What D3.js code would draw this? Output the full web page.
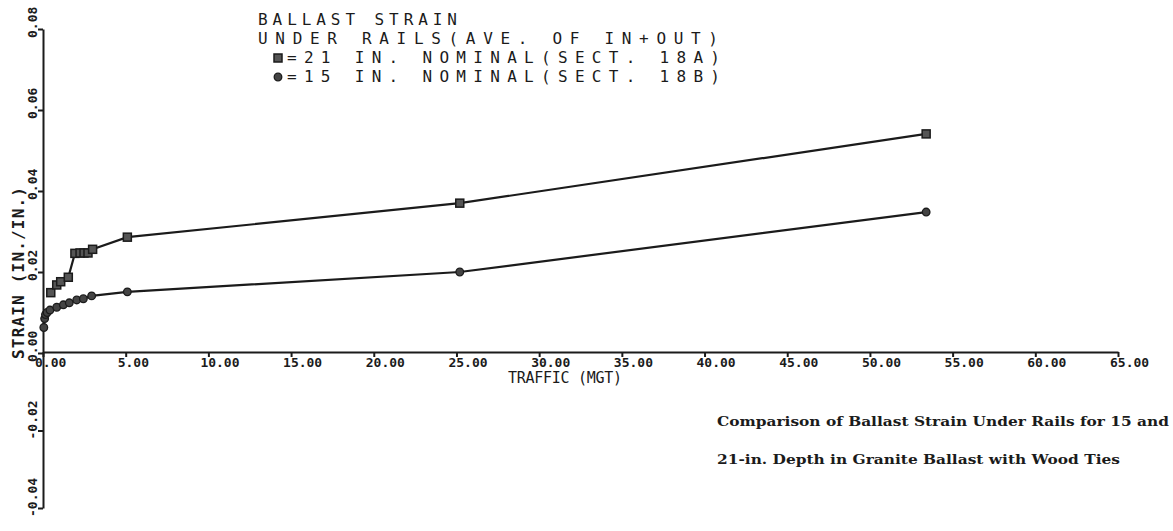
<!DOCTYPE html>
<html>
<head>
<meta charset="utf-8">
<script src="https://cdn.jsdelivr.net/npm/d3@7"></script>
<style>
  body { margin: 0; background: #fff; }
  svg { display: block; }
</style>
</head>
<body>
<div id="chart"></div>
<script>
// traffic (MGT) and strain (in./in.)
var traffic21 = [0.47, 0.83, 1.07, 1.53, 1.93, 2.24, 2.48, 2.72, 3.0, 5.1, 25.2, 53.4];
var strain21  = [0.0149, 0.0168, 0.0176, 0.0187, 0.0246, 0.0247, 0.0247, 0.0247, 0.0256, 0.0286, 0.0370, 0.0541];

var traffic15 = [0.05, 0.1, 0.15, 0.25, 0.42, 0.83, 1.23, 1.59, 2.04, 2.44, 2.94, 5.1, 25.2, 53.4];
var strain15  = [0.0063, 0.0085, 0.0095, 0.0100, 0.0106, 0.0113, 0.0119, 0.0124, 0.0131, 0.0134, 0.0141, 0.0151, 0.0200, 0.0348];

var xTicks = [0, 5, 10, 15, 20, 25, 30, 35, 40, 45, 50, 55, 60, 65];
var yTicks = [-0.04, -0.02, 0, 0.02, 0.04, 0.06, 0.08];

var legendLines = ["BALLAST STRAIN", "UNDER RAILS(AVE. OF IN+OUT)"];
var legendSeries = ["=21 IN. NOMINAL(SECT. 18A)", "=15 IN. NOMINAL(SECT. 18B)"];
var caption = ["Comparison of Ballast Strain Under Rails for 15 and",
               "21-in. Depth in Granite Ballast with Wood Ties"];

var width = 1173, height = 531;
var ink = "#1b1b1b";

var svg = d3.select("#chart").append("svg")
    .attr("width", width)
    .attr("height", height);

var x = d3.scaleLinear().domain([0, 65]).range([43, 1118]);
// scanned plot: slightly different spacing below zero
var y = d3.scaleLinear().domain([-0.04, 0, 0.08]).range([508, 353, 29]);

// axes
var xAxis = d3.axisBottom(x).tickValues(xTicks).tickSize(5).tickSizeOuter(0).tickFormat("");
var gx = svg.append("g").attr("transform", "translate(0," + 352 + ")").call(xAxis);

var yAxis = d3.axisLeft(y).tickValues(yTicks).tickSize(5).tickSizeOuter(0).tickFormat("");
var gy = svg.append("g").attr("transform", "translate(" + 43 + ",0)").call(yAxis);

[gx, gy].forEach(function(g) {
    g.select(".domain").attr("stroke", ink).attr("stroke-width", 2);
    g.selectAll(".tick line").attr("stroke", ink).attr("stroke-width", 2);
});

var tickFont = "'DejaVu Sans Mono', monospace";

svg.append("g").selectAll("text")
    .data(xTicks)
    .enter().append("text")
    .attr("x", function(d) { return x(d) - 8; })
    .attr("y", 367)
    .attr("font-family", tickFont)
    .attr("font-weight", "bold")
    .attr("font-size", 13)
    .attr("fill", ink)
    .text(function(d) { return d.toFixed(2); });

svg.append("g").selectAll("text")
    .data(yTicks)
    .enter().append("text")
    .attr("transform", function(d) { return "translate(37," + (y(d) + 9) + ")rotate(-90)"; })
    .attr("font-family", tickFont)
    .attr("font-weight", "bold")
    .attr("font-size", 13)
    .attr("fill", ink)
    .text(function(d) { return d.toFixed(2); });

// axis titles
svg.append("text")
    .attr("transform", "translate(24,273)rotate(-90)")
    .attr("text-anchor", "middle")
    .attr("font-family", tickFont)
    .attr("font-weight", "bold")
    .attr("font-size", 16)
    .attr("textLength", 172)
    .attr("fill", ink)
    .text("STRAIN (IN./IN.)");

svg.append("text")
    .attr("x", 508)
    .attr("y", 383)
    .attr("font-family", tickFont)
    .attr("font-size", 15)
    .attr("textLength", 114)
    .attr("fill", ink)
    .text("TRAFFIC (MGT)");

// series
function toPoints(xs, ys) {
    return xs.map(function(v, i) { return [v, ys[i]]; });
}
var s21 = toPoints(traffic21, strain21);
var s15 = toPoints(traffic15, strain15);

var line = d3.line()
    .x(function(d) { return x(d[0]); })
    .y(function(d) { return y(d[1]); });

[s21, s15].forEach(function(s) {
    svg.append("path")
        .attr("d", line(s))
        .attr("fill", "none")
        .attr("stroke", ink)
        .attr("stroke-width", 2.2);
});

function square(g, cx, cy) {
    g.append("rect")
        .attr("x", cx - 4).attr("y", cy - 4)
        .attr("width", 8).attr("height", 8)
        .attr("fill", "#555")
        .attr("stroke", ink)
        .attr("stroke-width", 1.5);
}
function circle(g, cx, cy) {
    g.append("circle")
        .attr("cx", cx).attr("cy", cy).attr("r", 3.8)
        .attr("fill", "#444")
        .attr("stroke", ink)
        .attr("stroke-width", 1.3);
}

var marks = svg.append("g");
s21.forEach(function(d) { square(marks, x(d[0]), y(d[1])); });
s15.forEach(function(d) { circle(marks, x(d[0]), y(d[1])); });

// legend / title block
var legendFont = "'DejaVu Sans Mono', monospace";
var legendBase = [25, 44];
var legendLen = [199, 460];
legendLines.forEach(function(t, i) {
    svg.append("text")
        .attr("x", 258)
        .attr("y", legendBase[i])
        .attr("font-family", legendFont)
        .attr("font-size", 16)
        .attr("textLength", legendLen[i])
        .attr("lengthAdjust", "spacing")
        .attr("fill", ink)
        .text(t);
});
var seriesBase = [63, 82];
legendSeries.forEach(function(t, i) {
    svg.append("text")
        .attr("x", 287)
        .attr("y", seriesBase[i])
        .attr("font-family", legendFont)
        .attr("font-size", 16)
        .attr("textLength", 433)
        .attr("lengthAdjust", "spacing")
        .attr("fill", ink)
        .text(t);
});
square(svg, 278, 58);
circle(svg, 278, 77);

// caption
var capLen = [452, 403];
var capBase = [426, 464];
caption.forEach(function(t, i) {
    svg.append("text")
        .attr("x", 717)
        .attr("y", capBase[i])
        .attr("font-family", "'DejaVu Serif', serif")
        .attr("font-weight", "bold")
        .attr("font-size", 12)
        .attr("textLength", capLen[i])
        .attr("lengthAdjust", "spacingAndGlyphs")
        .attr("fill", ink)
        .text(t);
});
</script>
</body>
</html>
